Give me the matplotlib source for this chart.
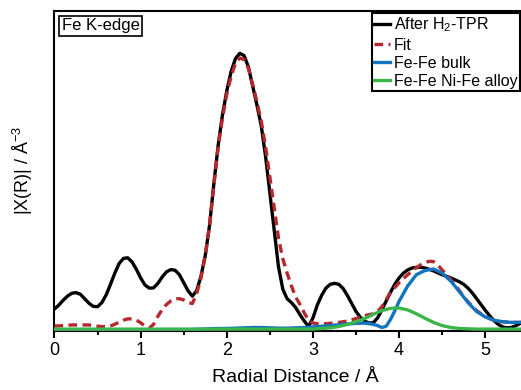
import numpy as np
import matplotlib
matplotlib.use("Agg")
import matplotlib.pyplot as plt

plt.rcParams['font.family'] = ['Liberation Sans', 'DejaVu Sans']
plt.rcParams['mathtext.fontset'] = 'custom'
plt.rcParams['mathtext.rm'] = 'Liberation Sans'
plt.rcParams['mathtext.default'] = 'regular'

# shared grid for the measured curve and the fit (Å)
r = np.round(np.arange(0, 5.601, 0.05), 2)

after_tpr = [
    0.068, 0.080, 0.095, 0.108, 0.117, 0.119, 0.114, 0.100, 0.086, 0.076,
    0.075, 0.088, 0.112, 0.145, 0.180, 0.210, 0.226, 0.228, 0.215, 0.192,
    0.165, 0.143, 0.133, 0.134, 0.148, 0.168, 0.184, 0.191, 0.189, 0.175,
    0.150, 0.125, 0.108, 0.125, 0.170, 0.235, 0.330, 0.460, 0.580, 0.675,
    0.750, 0.810, 0.850, 0.867, 0.860, 0.825, 0.765, 0.705, 0.640, 0.545,
    0.430, 0.315, 0.200, 0.130, 0.100, 0.088, 0.072, 0.050, 0.030, 0.013,
    0.040, 0.080, 0.110, 0.133, 0.145, 0.148, 0.145, 0.132, 0.110, 0.085,
    0.060, 0.042, 0.030, 0.024, 0.025, 0.040, 0.065, 0.093, 0.120, 0.145,
    0.165, 0.180, 0.190, 0.196, 0.198, 0.198, 0.196, 0.192, 0.187, 0.181,
    0.175, 0.170, 0.165, 0.159, 0.153, 0.145, 0.133, 0.118, 0.100, 0.082,
    0.064, 0.047, 0.032, 0.020, 0.012, 0.009, 0.010, 0.015, 0.022, 0.028,
    0.032, 0.034, 0.035,
]

fit = [
    0.015, 0.015, 0.016, 0.017, 0.018, 0.018, 0.018, 0.018, 0.018, 0.016,
    0.014, 0.013, 0.013, 0.015, 0.020, 0.027, 0.033, 0.037, 0.037, 0.033,
    0.025, 0.014, 0.008, 0.020, 0.045, 0.066, 0.082, 0.093, 0.100, 0.100,
    0.096, 0.088, 0.085, 0.115, 0.165, 0.235, 0.330, 0.455, 0.575, 0.665,
    0.740, 0.795, 0.835, 0.852, 0.848, 0.820, 0.770, 0.715, 0.655, 0.575,
    0.480, 0.385, 0.290, 0.225, 0.180, 0.140, 0.105, 0.082, 0.055, 0.033,
    0.024, 0.022, 0.022, 0.022, 0.023, 0.024, 0.026, 0.028, 0.030, 0.034,
    0.038, 0.043, 0.047, 0.050, 0.053, 0.060, 0.075, 0.097, 0.120, 0.135,
    0.150, 0.163, 0.175, 0.186, 0.197, 0.206, 0.213, 0.217, 0.216, 0.205,
    0.190, 0.175, 0.160, 0.143, 0.125, 0.107, 0.090, 0.076, 0.063, 0.053,
    0.045, 0.038, 0.033, 0.030, 0.028, 0.027, 0.026, 0.026, 0.026, 0.027,
    0.027, 0.027, 0.027,
]

r_bulk = [0.0, 0.5, 1.0, 1.5, 1.6, 1.7, 1.8, 1.9, 2.0, 2.1, 2.2, 2.3, 2.4,
          2.5, 2.6, 2.7, 2.8, 2.9, 3.0, 3.1, 3.2, 3.3, 3.4, 3.5, 3.6, 3.7,
          3.75, 3.8, 3.85, 3.9, 3.95, 4.0, 4.1, 4.2, 4.3, 4.4, 4.5, 4.6,
          4.7, 4.8, 4.9, 5.0, 5.1, 5.2, 5.3, 5.4, 5.5, 5.6]
fe_bulk = [0.003, 0.003, 0.003, 0.003, 0.004, 0.005, 0.006, 0.007, 0.007,
           0.008, 0.009, 0.010, 0.010, 0.009, 0.008, 0.008, 0.009, 0.010,
           0.012, 0.014, 0.016, 0.019, 0.021, 0.023, 0.024, 0.020, 0.016,
           0.010, 0.014, 0.035, 0.062, 0.092, 0.140, 0.175, 0.188, 0.193,
           0.180, 0.155, 0.122, 0.088, 0.060, 0.043, 0.033, 0.028, 0.026,
           0.026, 0.026, 0.026]

r_alloy = [0.0, 1.0, 2.0, 3.0, 3.1, 3.2, 3.3, 3.4, 3.5, 3.6, 3.7, 3.8, 3.9,
           4.0, 4.1, 4.2, 4.3, 4.4, 4.5, 4.6, 4.7, 4.8, 4.9, 5.6]
fe_alloy = [0.005, 0.005, 0.005, 0.005, 0.007, 0.009, 0.013, 0.020, 0.028,
            0.038, 0.051, 0.063, 0.070, 0.071, 0.065, 0.053, 0.039, 0.026,
            0.016, 0.010, 0.007, 0.006, 0.005, 0.005]

fig = plt.figure(figsize=(5.21, 3.90), dpi=100)
ax = fig.add_axes([0.1046, 0.152, 0.926, 0.8205])

ax.plot(r, after_tpr, color='black', lw=2.4, label='After H$_2$-TPR', zorder=2)
ax.plot(r, fit, color='#B5282E', lw=2.4, dashes=(2.6, 1.6), label='Fit', zorder=3)
ax.plot(r_bulk, fe_bulk, color='#1273BE', lw=2.4, label='Fe-Fe bulk', zorder=4)
ax.plot(r_alloy, fe_alloy, color='#3BB54A', lw=2.4, label='Fe-Fe Ni-Fe alloy', zorder=4)

ax.set_xlim(0, 5.6)
ax.set_ylim(0, 1.0)
ax.set_xticks([0, 1, 2, 3, 4, 5])
ax.set_xticks([0.5, 1.5, 2.5, 3.5, 4.5, 5.5], minor=True)
ax.set_yticks([])
ax.tick_params(axis='x', which='major', direction='out', length=5, width=1.5,
               labelsize=13, pad=3)
ax.tick_params(axis='x', which='minor', direction='out', length=3, width=1.5)
for s in ax.spines.values():
    s.set_linewidth(1.5)

ax.set_xlabel('Radial Distance / Å', fontsize=14, labelpad=7)
ax.set_ylabel('|X(R)| / Å$^{-3}$', fontsize=13, labelpad=14)

leg = ax.legend(loc='upper left', bbox_to_anchor=(371.7 / 521, 1 - 13.3 / 390),
                bbox_transform=fig.transFigure, borderaxespad=0, fontsize=11.5,
                handlelength=1.0, handletextpad=0.25, borderpad=0.15,
                labelspacing=0.2, fancybox=False, framealpha=1,
                edgecolor='black')
leg.get_frame().set_linewidth(1.5)

fig.text(61.5 / 521, 1 - 25.5 / 390, 'Fe K-edge', fontsize=12, va='center', ha='left',
         bbox=dict(boxstyle='square,pad=0.15', fc='white', ec='black', lw=1.2))

fig.savefig('out.png', dpi=100)
